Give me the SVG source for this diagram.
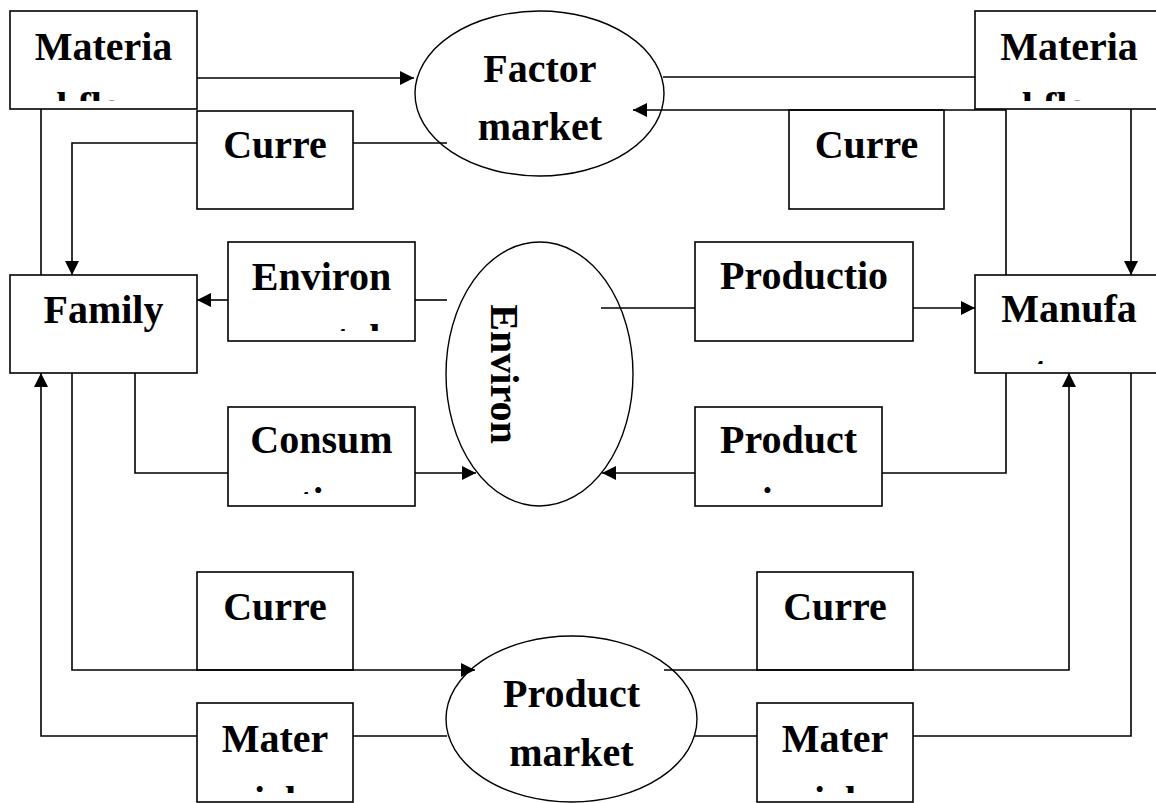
<svg xmlns="http://www.w3.org/2000/svg" width="1156" height="803" viewBox="0 0 1156 803">
<style>
.box{fill:#fff;stroke:#000;stroke-width:1.6}
.ell{fill:#fff;stroke:#000;stroke-width:1.4}
.t{font-family:"Liberation Serif","Times New Roman",serif;font-weight:bold;font-size:40px;text-anchor:middle;fill:#000}
.c{fill:none;stroke:#000;stroke-width:1.6}
.a{marker-end:url(#arr)}
</style>
<defs>
<marker id="arr" markerUnits="userSpaceOnUse" markerWidth="14" markerHeight="14" refX="14" refY="7" orient="auto">
<path d="M0,0 L14,7 L0,14 z" fill="#000"/>
</marker>
<clipPath id="cMatL"><rect x="10" y="11" width="187" height="90"/></clipPath>
<clipPath id="cMatR"><rect x="975" y="11" width="187" height="90"/></clipPath>
<clipPath id="cEnv"><rect x="228" y="242" width="187" height="89"/></clipPath>
<clipPath id="cCon"><rect x="228" y="407" width="187" height="87"/></clipPath>
<clipPath id="cMan"><rect x="975" y="275" width="187" height="89"/></clipPath>
<clipPath id="cPrd"><rect x="695" y="407" width="187" height="87"/></clipPath>
<clipPath id="cMtL"><rect x="197" y="703" width="156" height="90"/></clipPath>
<clipPath id="cMtR"><rect x="757" y="703" width="156" height="90"/></clipPath>
</defs>
<rect width="1156" height="803" fill="#fff"/>

<g id="material-flow-left">
<rect class="box" x="10" y="11" width="187" height="98"/>
<g clip-path="url(#cMatL)">
<text class="t" x="103.5" y="60">Materia</text>
<text class="t" x="103.5" y="120">l flow</text>
</g>
</g>

<g id="factor-market">
<ellipse class="ell" cx="539.5" cy="93.5" rx="124.5" ry="82.5"/>
<text class="t" x="540" y="82">Factor</text>
<text class="t" x="540" y="140">market</text>
</g>

<g id="material-flow-right">
<rect class="box" x="975" y="11" width="187" height="98"/>
<g clip-path="url(#cMatR)">
<text class="t" x="1069" y="60">Materia</text>
<text class="t" x="1069" y="120">l flow</text>
</g>
</g>

<g id="currency-top-left">
<rect class="box" x="197" y="111" width="156" height="98"/>
<text class="t" x="275" y="158">Curre</text>
</g>

<g id="currency-top-right">
<rect class="box" x="789" y="110" width="155" height="99"/>
<text class="t" x="866.5" y="158">Curre</text>
</g>

<g id="family">
<rect class="box" x="10" y="275" width="187" height="98"/>
<text class="t" x="103.5" y="323">Family</text>
</g>

<g id="environmental">
<rect class="box" x="228" y="242" width="187" height="99"/>
<g clip-path="url(#cEnv)">
<text class="t" x="321.5" y="290">Environ</text>
<text class="t" x="321.5" y="352">mental</text>
</g>
</g>

<g id="environment">
<ellipse class="ell" cx="539.5" cy="374" rx="93.5" ry="132"/>
<text class="t" transform="translate(491,374) rotate(90)">Environ</text>
</g>

<g id="production">
<rect class="box" x="695" y="242" width="218" height="99"/>
<text class="t" x="804" y="289">Productio</text>
</g>

<g id="manufacturer">
<rect class="box" x="975" y="275" width="187" height="98"/>
<g clip-path="url(#cMan)">
<text class="t" x="1069" y="322">Manufa</text>
<text class="t" x="1069" y="384">cturer</text>
</g>
</g>

<g id="consumption">
<rect class="box" x="228" y="407" width="187" height="99"/>
<g clip-path="url(#cCon)">
<text class="t" x="321.5" y="453">Consum</text>
<text class="t" x="321.5" y="515">ption</text>
</g>
</g>

<g id="production-waste">
<rect class="box" x="695" y="407" width="187" height="99"/>
<g clip-path="url(#cPrd)">
<text class="t" x="788.5" y="453">Product</text>
<text class="t" x="788.5" y="515">ion</text>
</g>
</g>

<g id="currency-bottom-left">
<rect class="box" x="197" y="572" width="156" height="98"/>
<text class="t" x="275" y="620">Curre</text>
</g>

<g id="currency-bottom-right">
<rect class="box" x="757" y="572" width="156" height="98"/>
<text class="t" x="835" y="620">Curre</text>
</g>

<g id="product-market">
<ellipse class="ell" cx="571.5" cy="719" rx="125.5" ry="83"/>
<text class="t" x="571.5" y="707">Product</text>
<text class="t" x="571.5" y="766">market</text>
</g>

<g id="material-bottom-left">
<rect class="box" x="197" y="703" width="156" height="99"/>
<g clip-path="url(#cMtL)">
<text class="t" x="275" y="752">Mater</text>
<text class="t" x="275" y="814">ial</text>
</g>
</g>

<g id="material-bottom-right">
<rect class="box" x="757" y="703" width="156" height="99"/>
<g clip-path="url(#cMtR)">
<text class="t" x="835" y="752">Mater</text>
<text class="t" x="835" y="814">ial</text>
</g>
</g>

<g id="connectors">
<path class="c a" d="M197,78 H414"/>
<path class="c" d="M447,143 H353"/>
<path class="c a" d="M197,143 H72 V275"/>
<path class="c" d="M41,109 V275"/>
<path class="c" d="M663,77 H975"/>
<path class="c a" d="M1006,275 V110 H633"/>
<path class="c a" d="M1131,109 V275"/>
<path class="c a" d="M228,300 H197"/>
<path class="c" d="M415,300 H447"/>
<path class="c" d="M601,308 H695"/>
<path class="c a" d="M913,308 H975"/>
<path class="c" d="M135,373 V473 H228"/>
<path class="c a" d="M415,473 H476"/>
<path class="c" d="M1006,373 V473 H882"/>
<path class="c a" d="M695,473 H602"/>
<path class="c a" d="M197,736 H41 V373"/>
<path class="c" d="M353,736 H447"/>
<path class="c a" d="M72,373 V670 H475"/>
<path class="c a" d="M664,670 H1069 V373"/>
<path class="c" d="M695,736 H757"/>
<path class="c" d="M913,736 H1131 V373"/>
</g>
</svg>
